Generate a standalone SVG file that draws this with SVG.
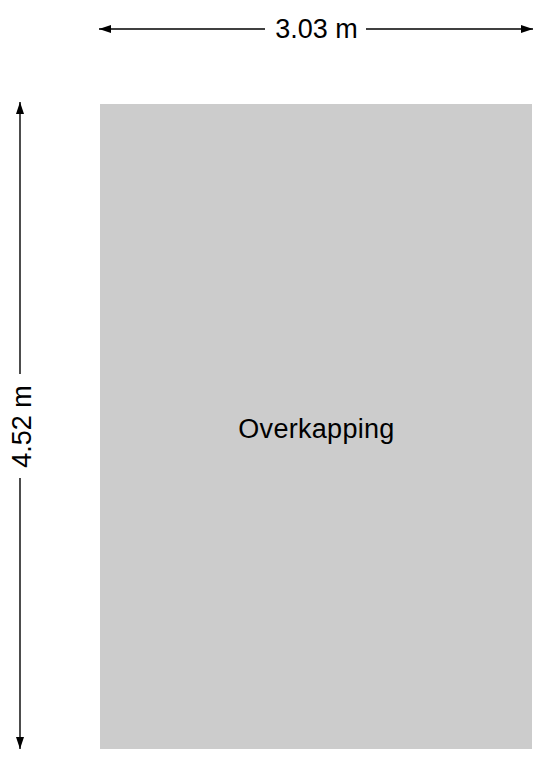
<svg xmlns="http://www.w3.org/2000/svg" width="543" height="768" viewBox="0 0 543 768">
<style>
.dim{stroke:#000;stroke-width:1.4;fill:none}
.lbl{font-family:"Liberation Sans",Arial,sans-serif;fill:#000;font-size:27px}
</style>
<defs>
<marker id="ah" viewBox="0 0 12 8" refX="12" refY="4" markerWidth="12" markerHeight="8" markerUnits="userSpaceOnUse" orient="auto">
<path d="M0,0 L12,4 L0,8 Z" fill="#000"/>
</marker>
</defs>
<rect width="543" height="768" fill="#fff"/>
<g id="overkapping">
<rect x="100" y="104" width="432" height="645" fill="#cccccc"/>
<text class="lbl" x="316.5" y="437.5" text-anchor="middle" letter-spacing="0.3">Overkapping</text>
</g>
<g id="connectors">
<line class="dim" x1="265" y1="29" x2="99" y2="29" marker-end="url(#ah)"/>
<line class="dim" x1="366" y1="29" x2="533" y2="29" marker-end="url(#ah)"/>
<line class="dim" x1="20" y1="374" x2="20" y2="102" marker-end="url(#ah)"/>
<line class="dim" x1="20" y1="478" x2="20" y2="749" marker-end="url(#ah)"/>
</g>
<g id="dim-width">
<text class="lbl" x="316.5" y="38.3" text-anchor="middle">3.03 m</text>
</g>
<g id="dim-height">
<text class="lbl" transform="translate(30.5,426.5) rotate(-90)" text-anchor="middle">4.52 m</text>
</g>
</svg>
